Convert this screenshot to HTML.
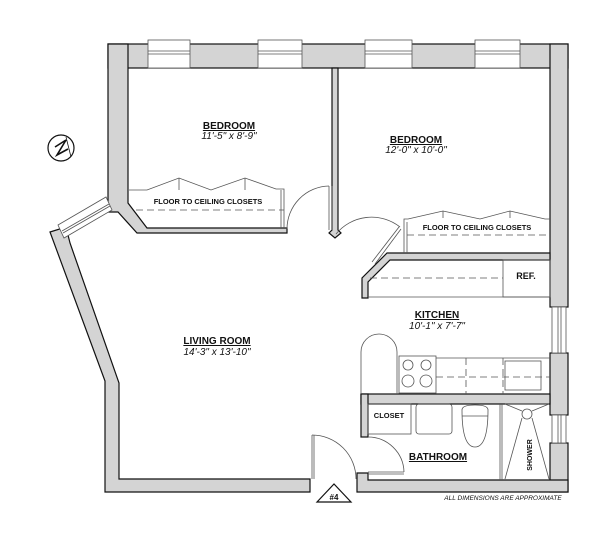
<!DOCTYPE html>
<html><head><meta charset="utf-8"><style>
html,body{margin:0;padding:0;background:#fff;}
svg{display:block;}
text{font-family:"Liberation Sans",sans-serif;font-weight:bold;fill:#111;}
.d{font-style:italic;font-weight:normal;}
</style></head><body>
<svg width="612" height="540" viewBox="0 0 612 540" xmlns="http://www.w3.org/2000/svg">
<g fill="#d4d4d4" stroke="#111" stroke-width="1.2">
<rect x="108" y="44" width="460" height="24"/>
<path d="M108,44 L128,44 L128,203 L147,228 L287,228 L287,233 L137,233 L118,212 L108,212 Z"/>
<path d="M332,68 L338,68 L338,230 L341,233 L335,238 L329,233 L332,230 Z"/>
<rect x="550" y="44" width="18" height="263"/>
<rect x="550" y="353" width="18" height="62"/>
<rect x="550" y="443" width="18" height="49"/>
<path d="M387,253 L550,253 L550,260 L390,260 L368,282 L368,298 L362,298 L362,278 Z"/>
<rect x="361" y="394" width="189" height="10"/>
<rect x="361" y="394" width="7" height="43"/>
<path d="M357,473 L368,473 L368,480 L568,480 L568,492 L357,492 Z"/>
<path d="M50,232 L66,227 L70,243 L119,383 L119,479 L310,479 L310,492 L105,492 L105,381 Z"/>
</g>
<g fill="#d4d4d4" stroke="none">
<rect x="109" y="45" width="18" height="22"/>
<rect x="551" y="45" width="16" height="22"/>
<rect x="551" y="395" width="6" height="8"/>
<rect x="362" y="395" width="5" height="8"/>
</g>
<g fill="#fff" stroke="#555" stroke-width="0.8">
<rect x="148" y="40" width="42" height="28"/>
<rect x="258" y="40" width="44" height="28"/>
<rect x="365" y="40" width="47" height="28"/>
<rect x="475" y="40" width="45" height="28"/>
<rect x="552" y="307" width="14" height="46"/>
<rect x="552" y="415" width="14" height="28"/>
</g>
<g stroke="#555" stroke-width="0.8">
<line x1="148" y1="51" x2="190" y2="51"/><line x1="148" y1="54" x2="190" y2="54"/>
<line x1="258" y1="51" x2="302" y2="51"/><line x1="258" y1="54" x2="302" y2="54"/>
<line x1="365" y1="51" x2="412" y2="51"/><line x1="365" y1="54" x2="412" y2="54"/>
<line x1="475" y1="51" x2="520" y2="51"/><line x1="475" y1="54" x2="520" y2="54"/>
<line x1="558" y1="307" x2="558" y2="353"/><line x1="561" y1="307" x2="561" y2="353"/>
<line x1="558" y1="415" x2="558" y2="443"/><line x1="561" y1="415" x2="561" y2="443"/>
</g>
<g stroke="#555" stroke-width="0.8" fill="#fff">
<polygon points="58,225 106,197 112,210 64,238"/>
<line x1="62" y1="231" x2="109" y2="204"/><line x1="63" y1="233" x2="110" y2="206"/>
</g>
<g fill="none" stroke="#555" stroke-width="0.8">
<polyline points="129,190 147,190 179,178 211,190 245,178 276,189 284,189 284,228"/>
<line x1="281" y1="190" x2="281" y2="228"/>
<line x1="179" y1="178" x2="179" y2="190"/><line x1="245" y1="178" x2="245" y2="190"/>
<line x1="136" y1="210" x2="284" y2="210" stroke-dasharray="7,4"/>
<polyline points="404,253 404,219 408,219 443,211 480,219 510,211 545,219 550,219"/>
<line x1="407" y1="222" x2="407" y2="253"/>
<line x1="443" y1="211" x2="443" y2="218"/><line x1="510" y1="211" x2="510" y2="218"/>
<line x1="407" y1="235" x2="550" y2="235" stroke-dasharray="7,4"/>
<line x1="368" y1="297" x2="550" y2="297"/>
<line x1="370" y1="278" x2="503" y2="278" stroke-dasharray="7,4"/>
<rect x="503" y="260" width="47" height="37"/>
<line x1="329" y1="186" x2="329" y2="230"/><line x1="332" y1="186" x2="332" y2="230"/>
<path d="M329,186 A43,43 0 0 0 287,229"/>
<path d="M336,234 A46,46 0 0 1 400,227"/>
<line x1="372" y1="262" x2="399" y2="227"/><line x1="375" y1="264" x2="401" y2="229"/>
<line x1="312" y1="435" x2="312" y2="479"/><line x1="314" y1="435" x2="314" y2="479"/>
<path d="M312,435 A44,44 0 0 1 356,479"/>
<line x1="368" y1="472" x2="404" y2="472"/><line x1="368" y1="474" x2="404" y2="474"/>
<path d="M368,437 A36,36 0 0 1 404,472"/>
<path d="M361,394 L361,352 A18,18 0 0 1 397,352 L397,394"/>
<rect x="399" y="356" width="37" height="37"/>
<line x1="436" y1="358" x2="550" y2="358"/>
<line x1="436" y1="377" x2="550" y2="377" stroke-dasharray="7,4"/>
<line x1="466" y1="358" x2="466" y2="394" stroke-dasharray="7,4"/>
<line x1="503" y1="358" x2="503" y2="394" stroke-dasharray="7,4"/>
<rect x="505" y="361" width="36" height="29"/>
<circle cx="408" cy="365" r="5"/><circle cx="426" cy="365" r="5"/>
<circle cx="408" cy="381" r="6"/><circle cx="426" cy="381" r="6"/>
<rect x="368" y="404" width="43" height="30"/>
<rect x="416" y="404" width="36" height="30" rx="3"/>
<path d="M462,410 Q462,405 475,405 Q488,405 488,410 Q488,447 475,447 Q462,447 462,410 Z"/>
<line x1="462" y1="416" x2="488" y2="416"/>
<line x1="500" y1="404" x2="500" y2="480"/><line x1="502" y1="404" x2="502" y2="480"/>
<circle cx="527" cy="414" r="5"/>
<line x1="505" y1="404" x2="549" y2="404"/>
<line x1="522" y1="418" x2="505" y2="479"/><line x1="532" y1="418" x2="549" y2="479"/>
<line x1="505" y1="404" x2="522" y2="411"/><line x1="549" y1="404" x2="532" y2="411"/>
<circle cx="61" cy="148" r="13" stroke="#111" stroke-width="1.2"/>
<polygon points="317,502 334,484 351,502" stroke="#111" stroke-width="1.2"/>
</g>
<path d="M55,147 L66,140 L57,155 L68,149" fill="none" stroke="#111" stroke-width="1.6"/>
<line x1="66" y1="137" x2="71" y2="157" stroke="#111" stroke-width="0.8"/>
<text x="229" y="129" font-size="10" text-anchor="middle" text-decoration="underline">BEDROOM</text>
<text class="d" x="229" y="139" font-size="10" text-anchor="middle">11'-5" x 8'-9"</text>
<text x="416" y="143" font-size="10" text-anchor="middle" text-decoration="underline">BEDROOM</text>
<text class="d" x="416" y="153" font-size="10" text-anchor="middle">12'-0" x 10'-0"</text>
<text x="217" y="344" font-size="10" text-anchor="middle" text-decoration="underline">LIVING ROOM</text>
<text class="d" x="217" y="355" font-size="10" text-anchor="middle">14'-3" x 13'-10"</text>
<text x="437" y="318" font-size="10" text-anchor="middle" text-decoration="underline">KITCHEN</text>
<text class="d" x="437" y="329" font-size="10" text-anchor="middle">10'-1" x 7'-7"</text>
<text x="438" y="460" font-size="10" text-anchor="middle" text-decoration="underline">BATHROOM</text>
<text x="389" y="418" font-size="7.5" text-anchor="middle" font-weight="normal">CLOSET</text>
<text x="526" y="279" font-size="9" text-anchor="middle" font-weight="normal">REF.</text>
<text x="208" y="204" font-size="7.5" text-anchor="middle" font-weight="normal">FLOOR TO CEILING CLOSETS</text>
<text x="477" y="230" font-size="7.5" text-anchor="middle" font-weight="normal">FLOOR TO CEILING CLOSETS</text>
<text x="0" y="0" font-size="7" text-anchor="middle" font-weight="normal" transform="translate(532,455) rotate(-90)">SHOWER</text>
<text x="334" y="500" font-size="8" text-anchor="middle">#4</text>
<text class="d" x="503" y="500" font-size="6.5" text-anchor="middle">ALL DIMENSIONS ARE APPROXIMATE</text>
</svg>
</body></html>
